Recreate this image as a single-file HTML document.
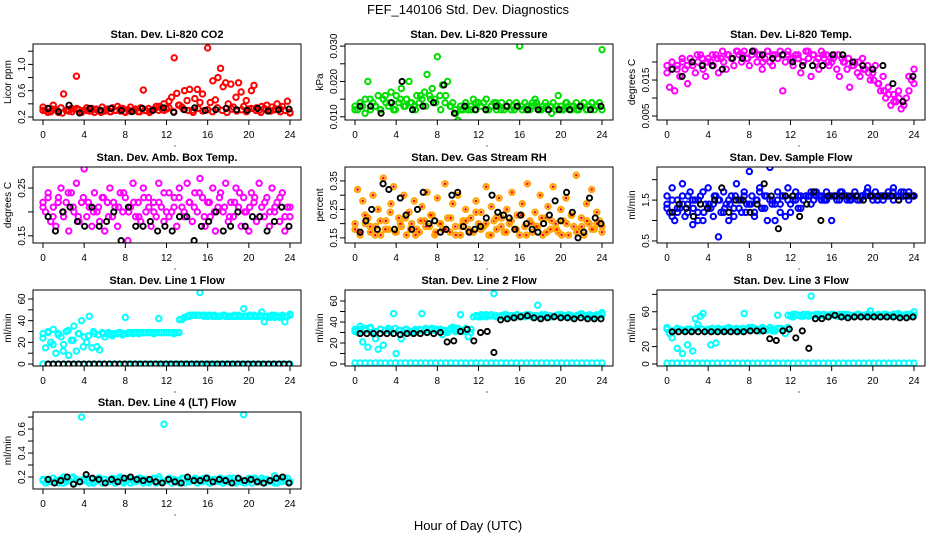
<!DOCTYPE html>
<html><head><meta charset="utf-8"><style>
body{margin:0;background:#fff;}
svg{display:block;font-family:"Liberation Sans",sans-serif;}
</style></head><body>
<svg id="c" width="936" height="540">
<text x="468" y="14" text-anchor="middle" font-size="13">FEF_140106  Std. Dev. Diagnostics</text>
<text x="468" y="530" text-anchor="middle" font-size="13">Hour of Day (UTC)</text>
</svg>
<script>
const xTicks=[0,4,8,12,16,20,24];
const co2Red=[0.35,0.30,0.33,0.28,0.38,0.31,0.27,0.34,0.55,0.30,0.29,0.33,0.32,0.82,0.31,0.28,0.30,0.34,0.29,0.33,0.27,0.31,0.30,0.35,0.29,0.32,0.28,0.34,0.30,0.36,0.29,0.33,0.28,0.31,0.35,0.30,0.32,0.28,0.34,0.61,0.30,0.33,0.29,0.31,0.36,0.30,0.33,0.40,0.32,0.44,0.50,1.10,0.56,0.38,0.35,0.60,0.45,0.62,0.30,0.48,0.62,0.42,0.55,0.30,1.25,0.42,0.75,0.46,0.80,0.94,0.66,0.72,0.40,0.70,0.35,0.50,0.72,0.58,0.36,0.45,0.32,0.60,0.68,0.34,0.30,0.36,0.33,0.38,0.30,0.35,0.31,0.40,0.33,0.36,0.30,0.44,0.26];
const co2Red2=[0.30,0.27,0.32,0.29,0.26,0.31,0.28,0.33,0.27,0.30,0.29,0.32,0.27,0.31,0.28,0.30,0.33,0.27,0.29,0.31,0.28,0.30,0.27,0.32,0.36,0.30,0.34,0.28,0.38,0.32,0.30,0.27,0.33,0.29,0.31,0.28,0.34,0.30,0.27,0.32,0.29,0.31,0.28,0.33,0.30,0.27,0.31,0.29,0.32,0.28,0.30,0.27];
const co2Black=[0.33,0.28,0.38,0.26,0.33,0.30,0.33,0.30,0.28,0.33,0.30,0.34,0.27,0.31,0.34,0.30,0.31,0.33,0.31,0.30,0.33,0.29,0.31,0.32];
const presGreen=[.013,.012,.014,.013,.015,.020,.012,.014,.013,.016,.012,.015,.014,.013,.017,.012,.016,.014,.018,.013,.015,.020,.014,.013,.016,.014,.015,.017,.022,.016,.018,.015,.027,.016,.019,.014,.020,.013,.014,.012,.009,.013,.012,.014,.012,.013,.015,.012,.014,.013,.014,.015,.012,.013,.014,.012,.013,.014,.012,.013,.014,.013,.012,.013,.030,.012,.014,.013,.012,.014,.015,.013,.012,.013,.014,.012,.013,.014,.012,.016,.013,.012,.014,.013,.012,.013,.014,.012,.013,.014,.012,.013,.014,.012,.013,.014,.029];
const presGreen2=[.012,.014,.011,.015,.013,.012,.016,.014,.012,.015,.013,.014,.012,.016,.013,.015,.014,.012,.016,.013,.011,.012,.013,.012,.014,.013,.012,.013,.014,.012,.013,.012,.014,.013,.012,.013,.014,.012,.013,.011,.013,.012,.014,.013,.012,.013,.012,.014,.013,.012];
const presBlack=[.013,.013,.011,.014,.020,.012,.013,.014,.019,.011,.013,.012,.012,.013,.013,.013,.012,.012,.012,.012,.012,.013,.012,.013];
const tempMag=[.017,.013,.018,.012,.019,.016,.020,.018,.014,.021,.019,.017,.020,.022,.018,.016,.021,.020,.019,.022,.017,.021,.020,.018,.022,.021,.019,.023,.022,.020,.023,.021,.019,.022,.023,.020,.022,.018,.021,.023,.020,.019,.022,.021,.023,.012,.020,.022,.021,.019,.022,.021,.017,.020,.023,.021,.016,.022,.020,.018,.023,.021,.022,.019,.020,.022,.018,.016,.021,.020,.018,.013,.019,.020,.017,.016,.021,.018,.019,.015,.017,.019,.014,.012,.016,.010,.013,.008,.011,.009,.012,.007,.008,.010,.016,.015,.018];
const tempMag2=[.019,.020,.018,.021,.019,.020,.022,.021,.020,.022,.021,.023,.022,.021,.023,.022,.021,.023,.022,.020,.023,.022,.021,.022,.023,.021,.022,.020,.023,.022,.021,.022,.020,.021,.022,.020,.021,.019,.020,.018,.017,.015,.014,.012,.011,.009,.010,.008,.012,.014];
const tempBlack=[.018,.016,.020,.019,.019,.018,.021,.021,.023,.022,.021,.022,.020,.019,.019,.019,.022,.022,.020,.019,.018,.019,.014,.009,.016];
const boxMag=[.22,.20,.24,.18,.21,.17,.23,.25,.19,.22,.16,.24,.20,.26,.18,.22,.29,.19,.21,.17,.24,.20,.18,.23,.16,.22,.25,.19,.21,.17,.24,.20,.23,.14,.21,.26,.19,.22,.18,.25,.20,.23,.17,.22,.19,.26,.21,.18,.20,.24,.20,.23,.17,.25,.21,.19,.26,.22,.18,.24,.20,.27,.23,.17,.22,.19,.25,.16,.21,.24,.20,.26,.18,.22,.19,.25,.21,.17,.23,.20,.16,.24,.22,.18,.26,.21,.19,.23,.17,.25,.20,.22,.18,.24,.16,.21,.19];
const boxMag2=[.21,.23,.19,.22,.20,.24,.21,.19,.23,.22,.20,.21,.23,.19,.22,.21,.24,.20,.22,.19,.23,.21,.20,.22,.24,.19,.21,.23,.20,.22,.21,.24,.19,.22,.20,.23,.21,.19,.22,.24,.20,.21,.23,.19,.22,.20,.21,.23,.19,.21];
const boxBlack=[.19,.16,.20,.21,.18,.17,.21,.17,.18,.20,.14,.21,.17,.17,.18,.16,.17,.16,.19,.19,.14,.17,.18,.20,.16,.17,.20,.17,.19,.19,.16,.18,.21,.17];
const rhOrange=[.18,.32,.16,.28,.20,.22,.17,.30,.19,.25,.16,.36,.21,.18,.27,.33,.17,.22,.19,.30,.16,.24,.20,.28,.18,.17,.26,.21,.31,.19,.23,.16,.29,.20,.18,.34,.22,.17,.27,.19,.30,.16,.21,.25,.18,.22,.17,.28,.20,.24,.19,.33,.16,.26,.21,.18,.29,.22,.17,.25,.20,.31,.18,.23,.16,.27,.19,.34,.21,.17,.24,.19,.30,.16,.22,.26,.18,.33,.20,.17,.25,.21,.29,.16,.23,.19,.37,.18,.22,.16,.27,.20,.32,.18,.24,.21,.19];
const rhOrange2=[.20,.17,.23,.19,.16,.21,.18,.24,.17,.20,.22,.18,.16,.21,.19,.23,.17,.20,.18,.22,.16,.19,.21,.17,.24,.18,.20,.16,.22,.19,.17,.21,.18,.23,.16,.20,.19,.22,.17,.21,.18,.16,.20,.23,.17,.19,.21,.18,.20,.17];
const rhBlack=[.17,.21,.25,.18,.34,.32,.18,.29,.23,.18,.25,.31,.20,.21,.17,.18,.30,.31,.19,.17,.18,.19,.22,.30,.24,.23,.22,.18,.23,.20,.18,.17,.20,.23,.28,.21,.31,.24,.15,.17,.29,.22,.20];
const flowBlue=[1.6,1.2,1.8,1.0,1.5,1.3,1.9,1.1,1.4,1.7,0.9,1.5,1.2,1.6,1.0,1.4,1.8,1.3,1.1,1.6,1.5,1.2,1.7,1.4,1.0,1.6,1.3,1.9,1.5,1.2,1.7,1.4,2.2,1.6,1.1,1.5,1.8,1.3,1.6,1.0,2.3,1.5,1.4,1.7,1.2,1.6,1.1,1.8,1.4,1.5,1.7,1.3,1.6,1.5,1.6,1.6,1.7,1.5,1.6,1.6,1.6,1.5,1.7,1.6,1.0,1.6,1.6,1.5,1.7,1.6,1.6,1.5,1.6,1.7,1.6,1.5,1.6,1.6,1.8,1.6,1.5,1.7,1.6,1.6,1.5,1.6,1.7,1.6,1.8,1.6,1.5,1.7,1.6,1.6,1.7,1.6,1.6];
const flowBlue2=[1.4,1.1,1.3,1.6,1.2,1.5,1.0,1.7,1.3,1.4,0.6,1.2,1.5,1.1,1.3,1.6,1.4,1.2,1.7,1.3,1.5,1.0,1.4,1.6,1.2,1.5,1.3,1.6,1.4,1.7,1.5,1.5,1.6,1.5,1.6,1.5,1.6,1.5,1.6,1.7,1.6,1.5,1.6,1.6,1.5,1.6,1.7,1.6,1.6];
const flowBlue3=[1.3,1.5,1.2,1.4,1.6,1.3,1.5,1.2,1.4,1.6,1.5,1.3,1.4,1.6,1.5,1.2,1.4,1.5,1.3,1.6,1.4,1.5,1.6,1.5,1.6,1.6,1.5,1.6,1.7,1.6,1.5,1.6,1.6,1.7,1.6,1.5,1.6,1.6,1.7,1.6,1.5,1.6,1.6,1.7,1.6,1.6,1.5,1.6];
const flowBlack=[1.2,1.4,1.3,1.1,1.4,1.3,1.5,1.8,1.2,1.5,1.5,1.2,1.4,1.9,1.6,0.8,1.6,1.6,1.1,1.4,1.7,1.0,1.6,1.6,1.6,1.6,1.6,1.5,1.6,1.6,1.6,1.6,1.5,1.6,1.6];
const l1Cyan=[28,15,29,20,32,10,28,25,18,30,8,22,35,12,28,40,25,20,44,15,28,16,13,29,25,28,27,26,28,28,29,27,43,28,29,28,29,29,29,29,29,29,29,29,29,42,29,29,29,29,29,29,29,41,41,43,44,45,45,45,45,66,45,45,44,45,44,44,44,44,45,44,44,44,44,44,45,44,51,44,44,44,45,44,44,48,39,44,44,45,43,44,43,45,39,44,46];
const l1Cyan2=[24,30,18,27,12,31,22,28,16,26,30,27,28,29,28,29,28,29,29,28,29,29,28,29,29,29,28,29,43,44,45,45,44,45,45,44,45,44,45,44,44,45,44,45,44,43,45,44,44,45];
const l1Zero=[0,0,0,0,0,0,0,0,0,0,0,0,0,0,0,0,0,0,0,0,0,0,0,0,0,0,0,0,0,0,0,0,0,0,0,0,0,0,0,0,0,0,0,0,0,0,0,0,0,0];
const l1Black=[0,0,0,0,0,0,0,0,0,0,0,0,0,0,0,0,0,0,0,0,0,0,0,0,0,0,0,0,0,0,0,0,0,0,0,0,0,0,0,0,0,0,0,0,0,0,0,0];
const l2Cyan=[33,30,36,21,34,16,35,30,24,14,33,18,32,34,31,48,10,32,24,30,33,31,30,32,31,33,48,32,30,33,34,32,33,31,28,32,30,33,35,31,34,47,31,33,26,30,45,46,45,47,46,45,46,47,67,46,45,46,47,45,46,45,46,47,45,46,45,46,47,45,46,56,45,46,47,45,46,45,46,47,45,46,45,47,46,45,46,47,48,46,45,47,46,45,47,46,49];
const l2Cyan2=[31,33,32,34,31,33,32,33,34,32,33,31,33,32,34,33,32,33,31,34,33,32,34,33,46,45,47,46,45,46,47,46,45,46,47,45,46,47,46,45,46,47,46,45,46,47,46,45,46,47];
const l2Zero=[1,1,1,1,1,1,1,1,1,1,1,1,1,1,1,1,1,1,1,1,1,1,1,1,1,1,1,1,1,1,1,1,1,1,1,1,1,1,1,1,1,1,1,1,1,1,1,1,1,1];
const l2Black=[29,29,29,29,29,29,28,29,29,29,30,29,30,21,22,31,33,22,30,31,11,42,43,44,45,46,44,43,44,45,44,44,43,44,43,43,43];
const l3Cyan=[42,35,30,38,18,40,12,38,22,40,15,52,45,55,58,38,40,22,38,24,41,39,40,38,42,40,39,41,40,38,58,40,42,39,41,40,38,42,40,39,42,40,38,56,41,39,35,42,55,54,57,56,55,57,56,55,78,56,57,55,56,57,55,56,57,56,55,57,56,55,57,56,55,56,57,56,55,56,57,61,56,55,57,56,55,57,56,55,57,56,58,55,56,57,55,56,60];
const l3Cyan2=[40,38,41,39,40,38,41,40,39,41,40,38,41,40,39,41,40,42,39,41,40,38,41,40,56,57,56,55,57,56,57,56,55,57,56,57,56,55,57,56,57,56,55,57,56,57,56,55,57,56];
const l3Zero=[1,1,1,1,1,1,1,1,1,1,1,1,1,1,1,1,1,1,1,1,1,1,1,1,1,1,1,1,1,1,1,1,1,1,1,1,1,1,1,1,1,1,1,1,1,1,1,1,1,1];
const l3Black=[37,37,37,37,37,37,37,37,37,37,37,37,38,38,38,29,27,38,40,30,38,18,52,52,54,56,54,53,54,54,54,54,54,54,54,53,53,54];
const l4Cyan=[.17,.15,.18,.16,.19,.17,.15,.18,.20,.16,.17,.19,.15,.18,.16,.70,.17,.19,.15,.18,.16,.17,.19,.15,.18,.16,.17,.19,.15,.18,.20,.16,.17,.19,.15,.18,.16,.17,.19,.15,.18,.16,.17,.19,.15,.18,.16,.64,.17,.19,.15,.18,.16,.17,.19,.15,.18,.16,.17,.19,.15,.18,.16,.17,.19,.15,.18,.16,.17,.19,.15,.18,.16,.17,.19,.15,.18,.16,.72,.17,.19,.15,.18,.16,.17,.19,.15,.18,.16,.17,.21,.15,.18,.16,.17,.19,.16];
const l4Cyan2=[.18,.16,.19,.17,.15,.18,.20,.16,.18,.17,.15,.19,.18,.16,.17,.19,.15,.18,.16,.19,.17,.15,.18,.20,.16,.18,.17,.15,.19,.16,.18,.17,.19,.15,.18,.16,.17,.19,.16,.18,.15,.17,.19,.16,.18,.17,.15,.19,.18,.16];
const l4Black=[.18,.15,.17,.20,.14,.16,.22,.19,.18,.15,.18,.16,.19,.20,.18,.17,.18,.16,.15,.18,.16,.15,.20,.17,.17,.19,.16,.18,.17,.15,.19,.17,.18,.16,.15,.17,.19,.20,.15];

const NS="http://www.w3.org/2000/svg";
const svg=document.getElementById('c');
function el(tag,attrs,parent){const e=document.createElementNS(NS,tag);for(const k in attrs)e.setAttribute(k,attrs[k]);(parent||svg).appendChild(e);return e;}
const rowTop=[44,167,290,412],rowBot=[120,243,366,489];
const panels=[
 {c:0,r:0,t:"Stan. Dev. Li-820 CO2",yl:"Licor ppm",lim:[0.154,1.31],tk:[0.2,0.4,0.6,0.8,1.0,1.2],lb:["0.2","","0.6","","1.0",""],s:[[co2Red,"#ff0000"],[co2Red2,"#ff0000"]],b:co2Black},
 {c:1,r:0,t:"Stan. Dev. Li-820 Pressure",yl:"kPa",lim:[0.0091,0.0306],tk:[0.010,0.015,0.020,0.025,0.030],lb:["0.010","","0.020","","0.030"],s:[[presGreen,"#00dd00"],[presGreen2,"#00dd00"]],b:presBlack},
 {c:2,r:0,t:"Stan. Dev. Li-820 Temp.",yl:"degrees C",lim:[0.0039,0.025],tk:[0.005,0.010,0.015,0.020],lb:["0.005","","0.015",""],s:[[tempMag,"#ff00ff"],[tempMag2,"#ff00ff"]],b:tempBlack},
 {c:0,r:1,t:"Stan. Dev. Amb. Box Temp.",yl:"degrees C",lim:[0.135,0.294],tk:[0.15,0.20,0.25],lb:["0.15","","0.25"],s:[[boxMag,"#ff00ff"],[boxMag2,"#ff00ff"]],b:boxBlack},
 {c:1,r:1,t:"Stan. Dev. Gas Stream RH",yl:"percent",lim:[0.132,0.399],tk:[0.15,0.20,0.25,0.30,0.35],lb:["0.15","","0.25","","0.35"],s:[[rhOrange,"#ffa500"],[rhOrange2,"#ffa500"]],b:rhBlack,rh:true},
 {c:2,r:1,t:"Stan. Dev. Sample Flow",yl:"ml/min",lim:[0.45,2.31],tk:[0.5,1.0,1.5,2.0],lb:["0.5","","1.5",""],s:[[flowBlue,"#0000ff"],[flowBlue2,"#0000ff"],[flowBlue3,"#0000ff"]],b:flowBlack},
 {c:0,r:2,t:"Stan. Dev. Line 1 Flow",yl:"ml/min",lim:[-1.8,68.3],tk:[0,10,20,30,40,50,60],lb:["0","","20","","40","","60"],s:[[l1Cyan,"#00ffff"],[l1Cyan2,"#00ffff"],[l1Zero,"#00ffff"]],b:l1Black},
 {c:1,r:2,t:"Stan. Dev. Line 2 Flow",yl:"ml/min",lim:[-1.9,70.5],tk:[0,10,20,30,40,50,60],lb:["0","","20","","40","","60"],s:[[l2Cyan,"#00ffff"],[l2Cyan2,"#00ffff"],[l2Zero,"#00ffff"]],b:l2Black},
 {c:2,r:2,t:"Stan. Dev. Line 3 Flow",yl:"ml/min",lim:[-2.3,85],tk:[0,20,40,60,80],lb:["0","20","","60",""],s:[[l3Cyan,"#00ffff"],[l3Cyan2,"#00ffff"],[l3Zero,"#00ffff"]],b:l3Black},
 {c:0,r:3,t:"Stan. Dev. Line 4 (LT) Flow",yl:"ml/min",lim:[0.1,0.742],tk:[0.2,0.3,0.4,0.5,0.6,0.7],lb:["0.2","","0.4","","0.6",""],s:[[l4Cyan,"#00ffff"],[l4Cyan2,"#00ffff"]],b:l4Black}
];
panels.forEach((p,pi)=>{
 const L=33+312*p.c,R=L+268,T=rowTop[p.r],B=rowBot[p.r];
 const x0=L+10,x1=L+257;
 const sx=h=>x0+(x1-x0)*h/24;
 const sy=v=>B-(v-p.lim[0])/(p.lim[1]-p.lim[0])*(B-T);
 const g=el('g',{});
 
 
 const t=el('text',{x:(L+R)/2,y:T-6,'text-anchor':'middle','font-size':11,'font-weight':'bold'},g);
 t.textContent=p.t;
 
 
 const yl=el('text',{x:0,y:0,'text-anchor':'middle','font-size':10,transform:`translate(${L-22},${(T+B)/2}) rotate(-90)`},g);
 yl.textContent=p.yl;
 
 
 const clip=el('clipPath',{id:'cp'+pi},g);el('rect',{x:L,y:T,width:R-L,height:B-T},clip);
 const marks=el('g',{'clip-path':`url(#cp${pi})`},g);
 
 
 p.s.forEach(([arr,col])=>{
  arr.forEach((v,i)=>{
   const h=i*24/(arr.length-1);
   const c=el('circle',{cx:sx(h),cy:sy(v),r:2.7,fill:'none',stroke:col,'stroke-width':2},marks);
   
   
   if(p.rh){el('circle',{cx:sx(h),cy:sy(v),r:1.3,fill:'#ff0000'},marks);}
  });
 });
 p.b.forEach((v,i)=>{
  const h=0.5+i*23.4/(p.b.length-1);
  const c=el('circle',{cx:sx(h),cy:sy(v),r:2.6,fill:'none',stroke:'#000',
   'stroke-width':1.9},marks);
  
  
 });
 const box=el('rect',{x:L,y:T,width:R-L,height:B-T,fill:'none',stroke:'#000','stroke-width':1},g);
 
 
 el('line',{x1:sx(0),x2:sx(24),y1:B,y2:B,stroke:'#000'},g);
 xTicks.forEach(h=>{
  el('line',{x1:sx(h),x2:sx(h),y1:B,y2:B+5,stroke:'#000'},g);
  const tx=el('text',{x:sx(h),y:B+18,'text-anchor':'middle','font-size':10},g);
  tx.textContent=h;
  
  
 });
 el('circle',{cx:(L+R)/2+8,cy:B+26,r:0.6,fill:'#000'},g);
 el('line',{x1:L,x2:L,y1:sy(p.tk[0]),y2:sy(p.tk[p.tk.length-1]),stroke:'#000'},g);
 p.tk.forEach((v,i)=>{
  el('line',{x1:L-5,x2:L,y1:sy(v),y2:sy(v),stroke:'#000'},g);
  if(p.lb[i]){
   const ty=el('text',{x:0,y:0,'text-anchor':'middle','font-size':10,transform:`translate(${L-8},${sy(v)}) rotate(-90)`},g);
   ty.textContent=p.lb[i];
   
   
  }
 });
});
</script>
</body></html>
